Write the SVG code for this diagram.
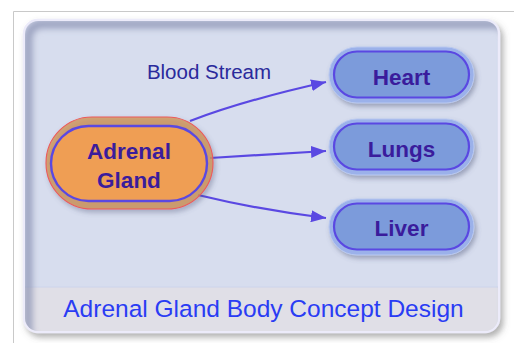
<svg xmlns="http://www.w3.org/2000/svg" width="514" height="343" viewBox="0 0 514 343">
<style>
.nodeText{font-family:"Liberation Sans",Arial,sans-serif;font-weight:bold;font-size:22.5px;fill:#3a1c9c;text-anchor:middle}
.blueHalo{fill:#9bb1ea;stroke:#b8c8f0;stroke-width:1}
.blueBody{fill:#7c9bdb;stroke:#5a48e2;stroke-width:2.2}
.conn{fill:none;stroke:#5a48e2;stroke-width:2.2}
</style>
<defs>
<marker id="arrow" markerUnits="userSpaceOnUse" markerWidth="16" markerHeight="12" refX="15" refY="6" orient="auto">
<path d="M0,0 L15,6 L0,12 Z" fill="#5a48e2"/>
</marker>
<filter id="shadow" x="-20%" y="-30%" width="150%" height="170%">
<feDropShadow dx="2" dy="3" stdDeviation="2.5" flood-color="#505878" flood-opacity="0.45"/>
</filter>
<filter id="panelShadow" x="-5%" y="-5%" width="112%" height="115%">
<feDropShadow dx="3" dy="4" stdDeviation="3" flood-color="#606060" flood-opacity="0.5"/>
</filter>
<filter id="blur"><feGaussianBlur stdDeviation="3"/></filter>
<clipPath id="panelClip"><rect x="25" y="21" width="473" height="310" rx="13"/></clipPath>
</defs>
<g id="frame">
<path d="M13.5,343 L13.5,11.5 L514,11.5" fill="none" stroke="#c9c9c9" stroke-width="1"/>
</g>
<g id="panel">
<rect x="24" y="20" width="475" height="312" rx="14" fill="#d7ddee" stroke="#ecebfa" stroke-width="2.5" filter="url(#panelShadow)"/>
<g clip-path="url(#panelClip)">
<rect x="25" y="287" width="473" height="44" fill="#e0dfe7"/>
<line x1="25" y1="287" x2="498" y2="287" stroke="#ccd4ec" stroke-width="1"/>
<rect x="28" y="24" width="480" height="320" rx="14" fill="none" stroke="#8a91b2" stroke-width="9" stroke-opacity="0.75" filter="url(#blur)"/>
</g>
<text x="263.5" y="317" font-family="'Liberation Sans',Arial,sans-serif" font-size="24.5" fill="#2a3cf4" text-anchor="middle">Adrenal Gland Body Concept Design</text>
</g>
<g id="connectors">
<path class="conn" d="M190,121 Q245,100 326,82" marker-end="url(#arrow)"/>
<path class="conn" d="M210,158 L326,151" marker-end="url(#arrow)"/>
<path class="conn" d="M198,195 Q260,210 326,218" marker-end="url(#arrow)"/>
<text x="209" y="79" font-family="'Liberation Sans',Arial,sans-serif" font-size="20.5" fill="#2a2a9c" text-anchor="middle">Blood Stream</text>
</g>
<g id="adrenal">
<rect x="46" y="117" width="167" height="92" rx="46" fill="#d09558" fill-opacity="0.8" stroke="#ec5a5a" stroke-width="1.1" filter="url(#shadow)"/>
<rect x="51" y="126" width="156" height="75" rx="37.5" fill="#ef9e54" stroke="#5a48e2" stroke-width="2.4"/>
<text class="nodeText" x="129" y="159">Adrenal</text>
<text class="nodeText" x="129" y="188">Gland</text>
</g>
<g id="heart">
<rect class="blueHalo" x="329" y="47" width="145" height="56" rx="28" filter="url(#shadow)"/>
<rect class="blueBody" x="334" y="51.5" width="135" height="46" rx="23"/>
<text class="nodeText" x="401.5" y="85">Heart</text>
</g>
<g id="lungs">
<rect class="blueHalo" x="329" y="119" width="145" height="56" rx="28" filter="url(#shadow)"/>
<rect class="blueBody" x="334" y="123.5" width="135" height="46" rx="23"/>
<text class="nodeText" x="401.5" y="157">Lungs</text>
</g>
<g id="liver">
<rect class="blueHalo" x="329" y="199" width="145" height="56" rx="28" filter="url(#shadow)"/>
<rect class="blueBody" x="334" y="203.5" width="135" height="46" rx="23"/>
<text class="nodeText" x="401.5" y="236">Liver</text>
</g>
</svg>
